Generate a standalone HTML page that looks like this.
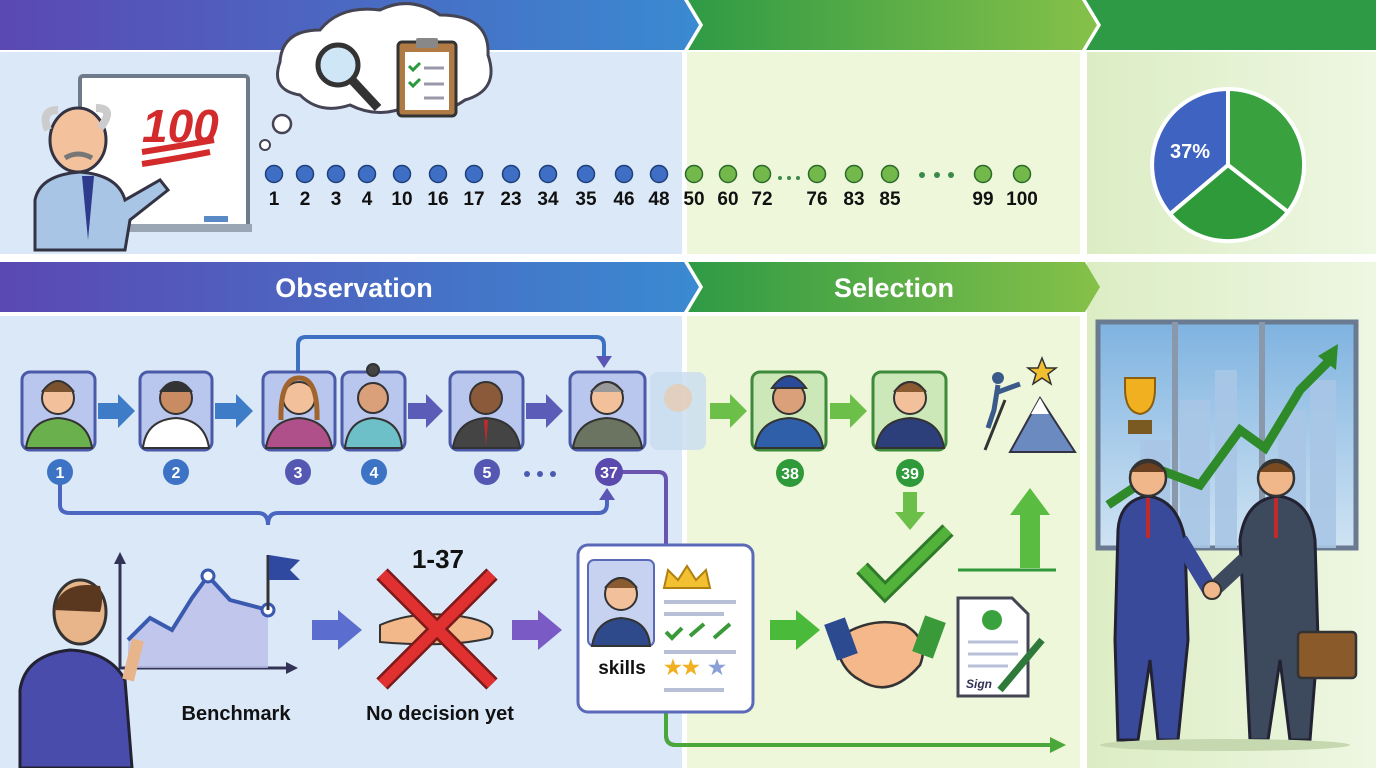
<!DOCTYPE html>
<html><head><meta charset="utf-8"><style>
html,body{margin:0;padding:0;width:1376px;height:768px;overflow:hidden;background:#fff}
svg{display:block}
text{font-family:"Liberation Sans",sans-serif;font-weight:bold}
</style></head><body>
<svg width="1376" height="768" viewBox="0 0 1376 768" xmlns="http://www.w3.org/2000/svg">
<defs>
<linearGradient id="gb" x1="0" x2="1"><stop offset="0" stop-color="#5b48b2"/><stop offset="1" stop-color="#3a8ad2"/></linearGradient>
<linearGradient id="gg" x1="0" x2="1"><stop offset="0" stop-color="#2f9a45"/><stop offset="1" stop-color="#86c149"/></linearGradient>
<linearGradient id="gr" x1="0" x2="1"><stop offset="0" stop-color="#dcedc4"/><stop offset="1" stop-color="#eef7e2"/></linearGradient>
<linearGradient id="sky" x1="0" y1="0" x2="0" y2="1"><stop offset="0" stop-color="#7fb3e0"/><stop offset="1" stop-color="#cfe3f3"/></linearGradient>
</defs>
<rect width="1376" height="768" fill="#fff"/>
<!-- panels -->
<rect x="0" y="52" width="682" height="202" fill="#dbe8f8"/>
<rect x="687" y="52" width="393" height="202" fill="#eef7da"/>
<rect x="1087" y="52" width="289" height="716" fill="url(#gr)"/>
<rect x="0" y="316" width="682" height="452" fill="#dbe8f8"/>
<rect x="687" y="316" width="393" height="452" fill="#eef7da"/>
<!-- top banner -->
<polygon points="0,0 685,0 700,25 685,50 0,50" fill="url(#gb)"/>
<polygon points="1085,0 1376,0 1376,50 1085,50 1098,25" fill="#2f9a45"/>
<polygon points="688,0 1083,0 1098,25 1083,50 688,50 703,25" fill="url(#gg)"/>
<polygon points="684,0 688,0 703,25 688,50 684,50 699,25" fill="#fff"/>
<polygon points="1082,0 1086,0 1101,25 1086,50 1082,50 1097,25" fill="#fff"/>
<!-- second banner -->
<rect x="0" y="254" width="1376" height="8" fill="#fff"/>
<polygon points="0,262 685,262 700,287 685,312 0,312" fill="url(#gb)"/>
<polygon points="688,262 1085,262 1100,287 1085,312 688,312 703,287" fill="url(#gg)"/>
<polygon points="684,262 688,262 703,287 688,312 684,312 699,287" fill="#fff"/>
<text x="354" y="297" font-size="27" fill="#fff" text-anchor="middle">Observation</text>
<text x="894" y="297" font-size="27" fill="#fff" text-anchor="middle">Selection</text>
<!-- whiteboard & teacher -->
<rect x="80" y="76" width="168" height="152" rx="3" fill="#fff" stroke="#6d7a8a" stroke-width="4"/>
<rect x="76" y="224" width="176" height="8" fill="#9aa6b3"/>
<rect x="204" y="216" width="24" height="6" fill="#5a8ac6"/>
<text x="142" y="142" font-size="46" fill="#d32b2b" font-style="italic">100</text>
<path d="M142 152 Q180 146 214 140" stroke="#d32b2b" stroke-width="6" fill="none"/>
<path d="M142 164 Q180 158 210 152" stroke="#d32b2b" stroke-width="6" fill="none"/>
<path d="M35 250 L35 200 Q40 175 80 172 Q118 175 125 200 L160 180 L168 190 L130 220 L125 250 Z" fill="#a9c5e6" stroke="#334" stroke-width="3"/>
<path d="M82 176 L88 240 L94 176 Z" fill="#2e3a8c"/>
<ellipse cx="78" cy="140" rx="28" ry="32" fill="#f3c19b" stroke="#334" stroke-width="3"/>
<path d="M48 130 Q40 110 58 110 M100 128 Q116 108 96 108" stroke="#ccc" stroke-width="8" fill="none"/>
<path d="M65 158 Q78 150 92 158" stroke="#777" stroke-width="5" fill="none"/>
<!-- thought cloud -->
<path d="M300 95 Q270 90 280 62 Q282 30 320 30 Q340 5 380 10 Q410 -5 440 15 Q490 15 488 55 Q500 90 465 100 Q440 118 410 105 Q380 120 350 105 Q320 115 300 95 Z" fill="#fff" stroke="#445" stroke-width="3"/>
<circle cx="282" cy="124" r="9" fill="#fff" stroke="#445" stroke-width="2.5"/>
<circle cx="265" cy="145" r="5" fill="#fff" stroke="#445" stroke-width="2"/>
<circle cx="338" cy="65" r="20" fill="#cfe6f7" stroke="#333" stroke-width="5"/>
<path d="M352 80 L378 108" stroke="#333" stroke-width="9"/>
<rect x="398" y="42" width="58" height="74" rx="4" fill="#b07a45" stroke="#333" stroke-width="3"/>
<rect x="405" y="52" width="44" height="58" fill="#fff"/>
<rect x="416" y="38" width="22" height="10" rx="2" fill="#888"/>
<g stroke="#2a9a3a" stroke-width="3" fill="none"><path d="M409 66 l4 4 l7 -7 M409 82 l4 4 l7 -7"/></g>
<g stroke="#99a" stroke-width="3"><path d="M424 68h20 M424 84h20 M424 98h20"/></g>
<!-- dots row -->
<g stroke="#1f3f7a" stroke-width="1.5" fill="#3e6fc4">
<circle cx="274" cy="174" r="8.5"/><circle cx="305" cy="174" r="8.5"/><circle cx="336" cy="174" r="8.5"/><circle cx="367" cy="174" r="8.5"/><circle cx="402" cy="174" r="8.5"/><circle cx="438" cy="174" r="8.5"/><circle cx="474" cy="174" r="8.5"/><circle cx="511" cy="174" r="8.5"/><circle cx="548" cy="174" r="8.5"/><circle cx="586" cy="174" r="8.5"/><circle cx="624" cy="174" r="8.5"/><circle cx="659" cy="174" r="8.5"/>
</g>
<g stroke="#2c6a2a" stroke-width="1.5" fill="#73b84b">
<circle cx="694" cy="174" r="8.5"/><circle cx="728" cy="174" r="8.5"/><circle cx="762" cy="174" r="8.5"/><circle cx="817" cy="174" r="8.5"/><circle cx="854" cy="174" r="8.5"/><circle cx="890" cy="174" r="8.5"/><circle cx="983" cy="174" r="8.5"/><circle cx="1022" cy="174" r="8.5"/>
</g>
<g fill="#3a8a4a"><circle cx="780" cy="178" r="2"/><circle cx="789" cy="178" r="2"/><circle cx="798" cy="178" r="2"/><circle cx="922" cy="175" r="3"/><circle cx="937" cy="175" r="3"/><circle cx="951" cy="175" r="3"/></g>
<g font-size="19" fill="#111" text-anchor="middle">
<text x="274" y="205">1</text><text x="305" y="205">2</text><text x="336" y="205">3</text><text x="367" y="205">4</text><text x="402" y="205">10</text><text x="438" y="205">16</text><text x="474" y="205">17</text><text x="511" y="205">23</text><text x="548" y="205">34</text><text x="586" y="205">35</text><text x="624" y="205">46</text><text x="659" y="205">48</text>
<text x="694" y="205">50</text><text x="728" y="205">60</text><text x="762" y="205">72</text><text x="817" y="205">76</text><text x="854" y="205">83</text><text x="890" y="205">85</text><text x="983" y="205">99</text><text x="1022" y="205">100</text>
</g>
<!-- pie -->
<g stroke="#fff" stroke-width="4">
<path d="M1228 165 L1228 89 A76 76 0 1 1 1170 214 Z" fill="#3aa13f"/>
<path d="M1228 165 L1288 212 A76 76 0 0 1 1170 214 Z" fill="#2f9a3a"/>
<path d="M1228 165 L1170 214 A76 76 0 0 1 1228 89 Z" fill="#3f63c0"/>
</g>
<text x="1190" y="158" font-size="20" fill="#fff" text-anchor="middle">37%</text>
<!-- connectors -->
<path d="M298 372 V345 Q298 337 306 337 H596 Q604 337 604 345 V358" stroke="#3c70c2" stroke-width="4" fill="none"/>
<polygon points="596,356 612,356 604,368" fill="#5b55b5"/>
<path d="M60 484 V505 Q60 513 70 513 H258 Q268 513 268 525 Q268 513 278 513 H598 Q607 513 607 504 V498" stroke="#4a66c0" stroke-width="4" fill="none"/>
<polygon points="599,500 615,500 607,488" fill="#5b55b5"/>
<path d="M622 472 H658 Q666 472 666 480 V735 Q666 745 676 745 H1052" stroke="#6a54b0" stroke-width="4" fill="none"/>
<path d="M666 600 V735 Q666 745 676 745 H1052" stroke="#4aa83a" stroke-width="4" fill="none"/>
<polygon points="1050,737 1066,745 1050,753" fill="#4aa83a"/>
<!-- person cards -->
<g stroke="#4a5aa8" stroke-width="3">
<rect x="22" y="372" width="73" height="78" rx="8" fill="#b9c6ee"/>
<rect x="140" y="372" width="72" height="78" rx="8" fill="#b9c6ee"/>
<rect x="263" y="372" width="72" height="78" rx="8" fill="#b9c6ee"/>
<rect x="342" y="372" width="63" height="78" rx="8" fill="#b9c6ee"/>
<rect x="450" y="372" width="73" height="78" rx="8" fill="#b9c6ee"/>
<rect x="570" y="372" width="75" height="78" rx="8" fill="#b9c6ee"/>
</g>
<rect x="650" y="372" width="56" height="78" rx="8" fill="#c8dcef" opacity="0.8"/>
<g stroke="#3c8a3a" stroke-width="3">
<rect x="752" y="372" width="74" height="78" rx="8" fill="#cde8b8"/>
<rect x="873" y="372" width="73" height="78" rx="8" fill="#cde8b8"/>
</g>
<!-- heads and bodies -->
<g stroke="#333" stroke-width="2">
<path d="M26 448 Q30 420 58 418 Q88 420 92 448 Z" fill="#6ab04c"/><circle cx="58" cy="398" r="16" fill="#f2c09a"/><path d="M42 392 Q58 370 74 392" fill="#7a5230"/>
<path d="M143 448 Q146 420 176 418 Q205 420 209 448 Z" fill="#fff"/><circle cx="176" cy="398" r="16" fill="#c98c62"/><path d="M160 392 Q176 372 192 392" fill="#333"/>
<path d="M266 448 Q270 420 299 418 Q328 420 332 448 Z" fill="#b0508a"/><circle cx="299" cy="398" r="16" fill="#f2c09a"/><path d="M281 420 Q280 378 299 378 Q318 378 317 420" fill="none" stroke="#a0642e" stroke-width="5"/>
<path d="M345 448 Q348 420 373 418 Q400 420 402 448 Z" fill="#6dc0c8"/><circle cx="373" cy="398" r="15" fill="#d9a07a"/><circle cx="373" cy="370" r="6" fill="#444"/>
<path d="M453 448 Q457 420 486 418 Q516 420 520 448 Z" fill="#444"/><circle cx="486" cy="398" r="16" fill="#8a5a3a"/>
<path d="M573 448 Q577 420 607 418 Q638 420 642 448 Z" fill="#6a7460"/><circle cx="607" cy="398" r="16" fill="#f2c09a"/><path d="M591 392 Q607 372 623 392" fill="#999"/>
<path d="M755 448 Q759 420 789 418 Q819 420 823 448 Z" fill="#2f5fa8"/><circle cx="789" cy="398" r="16" fill="#d9a07a"/><path d="M772 388 Q789 364 806 388 Z" fill="#2a4a9a"/>
<path d="M876 448 Q880 420 910 418 Q940 420 944 448 Z" fill="#2d3f7a"/><circle cx="910" cy="398" r="16" fill="#f2c09a"/><path d="M894 392 Q910 372 926 392" fill="#8a5a30"/>
</g>
<g fill="#c02a2a"><path d="M484 420 l2 26 l2 -26z"/></g>
<circle cx="678" cy="398" r="14" fill="#e9c7aa" opacity="0.7"/>
<!-- small arrows between cards -->
<g fill="#3e7cc8">
<polygon points="98,403 118,403 118,394 135,411 118,428 118,419 98,419"/>
<polygon points="215,403 236,403 236,394 253,411 236,428 236,419 215,419"/>
</g>
<g fill="#5b5bb8">
<polygon points="408,403 426,403 426,394 443,411 426,428 426,419 408,419"/>
<polygon points="526,403 546,403 546,394 563,411 546,428 546,419 526,419"/>
</g>
<g fill="#6cc04a">
<polygon points="710,403 730,403 730,394 747,411 730,428 730,419 710,419"/>
<polygon points="830,403 850,403 850,394 867,411 850,428 850,419 830,419"/>
</g>
<!-- number badges -->
<g font-size="16" fill="#fff" text-anchor="middle">
<circle cx="60" cy="472" r="13" fill="#3c73c4"/><text x="60" y="478">1</text>
<circle cx="176" cy="472" r="13" fill="#3c73c4"/><text x="176" y="478">2</text>
<circle cx="298" cy="472" r="13" fill="#5458b2"/><text x="298" y="478">3</text>
<circle cx="374" cy="472" r="13" fill="#3c73c4"/><text x="374" y="478">4</text>
<circle cx="487" cy="472" r="13" fill="#5458b2"/><text x="487" y="478">5</text>
<circle cx="609" cy="472" r="14" fill="#5a4aae"/><text x="609" y="478">37</text>
<circle cx="790" cy="473" r="14" fill="#2f9a3a"/><text x="790" y="479">38</text>
<circle cx="910" cy="473" r="14" fill="#2f9a3a"/><text x="910" y="479">39</text>
</g>
<g fill="#4a5ab0"><circle cx="527" cy="474" r="3"/><circle cx="540" cy="474" r="3"/><circle cx="553" cy="474" r="3"/></g>
<!-- green down arrow & check -->
<polygon points="903,492 917,492 917,512 925,512 910,530 895,512 903,512" fill="#6cc04a"/>
<path d="M862 568 L885 592 L948 530" stroke="#2f7a2a" stroke-width="16" fill="none"/>
<path d="M862 568 L885 592 L948 530" stroke="#52b23a" stroke-width="10" fill="none"/>
<polygon points="1030,488 1050,515 1040,515 1040,568 1020,568 1020,515 1010,515" fill="#5abc40"/>
<path d="M958 570 H1056" stroke="#2f9a3a" stroke-width="3"/>
<!-- mountain -->
<polygon points="1010,452 1040,398 1075,452" fill="#6a8ac0" stroke="#334" stroke-width="2"/>
<polygon points="1031,414 1040,398 1049,414" fill="#fff"/>
<polygon points="1042,358 1046,368 1056,368 1048,374 1051,384 1042,378 1033,384 1036,374 1028,368 1038,368" fill="#f0c030" stroke="#333" stroke-width="1.5"/>
<path d="M985 450 L1005 400" stroke="#333" stroke-width="3"/>
<circle cx="998" cy="378" r="6" fill="#3a5a8a"/><path d="M998 385 L994 410 L988 428 M998 392 L1020 384" stroke="#3a5a8a" stroke-width="5" fill="none"/>
<!-- benchmark -->
<path d="M120 560 V668 H292" stroke="#335" stroke-width="3" fill="none"/>
<polygon points="120,552 114,564 126,564" fill="#335"/><polygon points="298,668 286,662 286,674" fill="#335"/>
<path d="M128 640 L150 618 L172 630 L192 598 L208 576 L230 600 L268 610 V668 H128 Z" fill="#b9bde8" opacity="0.8"/>
<path d="M128 640 L150 618 L172 630 L192 598 L208 576 L230 600 L268 610" stroke="#3a5ab0" stroke-width="4" fill="none"/>
<circle cx="208" cy="576" r="6" fill="#fff" stroke="#3a5ab0" stroke-width="3"/><circle cx="268" cy="610" r="6" fill="#fff" stroke="#3a5ab0" stroke-width="3"/>
<path d="M268 610 V555" stroke="#333" stroke-width="3"/><polygon points="269,555 300,560 290,570 300,580 269,580" fill="#2f49a0"/>
<path d="M20 768 V690 Q25 655 70 650 Q110 652 125 680 L132 768 Z" fill="#4a4cac" stroke="#223" stroke-width="3"/>
<ellipse cx="80" cy="612" rx="26" ry="32" fill="#e8b48a" stroke="#333" stroke-width="3"/>
<path d="M54 610 Q60 580 100 586 Q104 600 100 612" fill="#5a3820"/>
<path d="M128 680 L138 640" stroke="#e8b48a" stroke-width="12"/>
<text x="236" y="720" font-size="20" fill="#111" text-anchor="middle">Benchmark</text>
<!-- purple arrows -->
<polygon points="312,620 338,620 338,610 362,630 338,650 338,640 312,640" fill="#5b6ed0"/>
<polygon points="512,620 538,620 538,610 562,630 538,650 538,640 512,640" fill="#7a5ac4"/>
<polygon points="770,620 796,620 796,610 820,630 796,650 796,640 770,640" fill="#4aba3a"/>
<!-- no decision -->
<text x="438" y="568" font-size="26" fill="#111" text-anchor="middle">1-37</text>
<path d="M380 625 Q420 608 470 618 Q500 625 490 638 Q450 648 380 642 Z" fill="#f2b88a" stroke="#333" stroke-width="2"/>
<path d="M382 574 L492 684 M492 574 L382 684" stroke="#7a1a1a" stroke-width="16"/>
<path d="M382 574 L492 684 M492 574 L382 684" stroke="#e03030" stroke-width="11"/>
<text x="440" y="720" font-size="20" fill="#111" text-anchor="middle">No decision yet</text>
<!-- profile card -->
<rect x="578" y="545" width="175" height="167" rx="10" fill="#fff" stroke="#5a6ab8" stroke-width="3"/>
<rect x="588" y="560" width="66" height="86" rx="6" fill="#c6d2f0" stroke="#5a6ab8" stroke-width="2"/>
<path d="M592 646 Q596 620 621 618 Q648 620 650 646 Z" fill="#2f4a8a" stroke="#333" stroke-width="2"/>
<circle cx="621" cy="594" r="16" fill="#f2c09a" stroke="#333" stroke-width="2"/>
<path d="M605 588 Q621 568 637 588" fill="#8a5a30" stroke="#333" stroke-width="2"/>
<polygon points="664,588 668,570 678,580 687,566 696,580 706,570 710,588" fill="#f2c030" stroke="#b08010" stroke-width="2"/>
<g stroke="#b8c0d8" stroke-width="4"><path d="M664 602h72 M664 614h60 M664 652h72 M664 690h60"/></g>
<path d="M666 632 l6 6 l10 -10 M690 636 l14 -12 M714 638 l16 -14" stroke="#3a9a3a" stroke-width="4" fill="none"/>
<text x="622" y="674" font-size="19" fill="#111" text-anchor="middle">skills</text>
<text x="664" y="674" font-size="20" fill="#f0b020">★★</text><text x="708" y="674" font-size="20" fill="#8aa0d8">★</text>
<!-- handshake -->
<path d="M835 640 Q870 615 905 625 Q930 640 920 665 Q890 700 860 680 Q840 670 835 640 Z" fill="#f5b88a" stroke="#333" stroke-width="2.5"/>
<rect x="830" y="620" width="22" height="38" fill="#2c4a90" transform="rotate(-20 841 639)"/>
<rect x="918" y="618" width="22" height="38" fill="#3a9a3a" transform="rotate(20 929 637)"/>
<!-- document -->
<path d="M958 598 H1012 L1028 614 V696 H958 Z" fill="#fff" stroke="#445" stroke-width="3"/>
<circle cx="992" cy="620" r="10" fill="#3aa13f"/>
<g stroke="#b8c0d8" stroke-width="3"><path d="M968 642h50 M968 654h50 M968 666h40"/></g>
<text x="966" y="688" font-size="12" fill="#335" font-style="italic">Sign</text>
<path d="M1000 690 L1042 640" stroke="#2f7a3a" stroke-width="7"/>
<!-- window / right scene -->
<rect x="1098" y="322" width="258" height="226" fill="url(#sky)" stroke="#6a7a90" stroke-width="5"/>
<path d="M1175 322 V548 M1262 322 V548" stroke="#8a98ab" stroke-width="6"/>
<g fill="#a9c6e6" opacity="0.9"><rect x="1180" y="400" width="30" height="148"/><rect x="1215" y="370" width="22" height="178"/><rect x="1278" y="410" width="28" height="138"/><rect x="1310" y="380" width="26" height="168"/><rect x="1140" y="440" width="30" height="108"/></g>
<path d="M1108 505 L1160 470 L1200 485 L1240 430 L1265 448 L1300 390 L1330 360" stroke="#2f8a2a" stroke-width="9" fill="none"/>
<polygon points="1338,344 1318,356 1336,370" fill="#2f8a2a"/>
<path d="M1125 378 h30 v10 q0 24 -15 26 q-15 -2 -15 -26z" fill="#f0b020" stroke="#8a6010" stroke-width="2"/>
<rect x="1128" y="420" width="24" height="14" fill="#7a5a20"/>
<!-- two men -->
<path d="M1118 530 Q1120 500 1148 496 Q1178 500 1185 540 L1188 640 L1178 740 H1158 L1150 660 L1138 740 H1118 L1115 640 Z" fill="#3a4a9a" stroke="#223" stroke-width="3"/>
<circle cx="1148" cy="478" r="18" fill="#f0b88a" stroke="#333" stroke-width="2.5"/>
<path d="M1130 472 Q1148 452 1166 472" fill="#6a4020" stroke="#333" stroke-width="2"/>
<path d="M1180 540 L1210 590" stroke="#3a4a9a" stroke-width="16"/>
<path d="M1240 540 Q1245 500 1278 496 Q1310 500 1315 540 L1318 640 L1310 740 H1290 L1280 660 L1268 740 H1250 L1245 640 Z" fill="#3d4a5e" stroke="#223" stroke-width="3"/>
<circle cx="1276" cy="478" r="18" fill="#f0b88a" stroke="#333" stroke-width="2.5"/>
<path d="M1258 472 Q1276 452 1294 472" fill="#7a4a20" stroke="#333" stroke-width="2"/>
<path d="M1245 560 L1215 588" stroke="#3d4a5e" stroke-width="16"/>
<path d="M1148 498 v40 M1276 498 v40" stroke="#c02a2a" stroke-width="4"/>
<circle cx="1212" cy="590" r="9" fill="#f0b88a" stroke="#333" stroke-width="2"/>
<rect x="1298" y="632" width="58" height="46" rx="4" fill="#8a5a2a" stroke="#333" stroke-width="2.5"/>
<ellipse cx="1225" cy="745" rx="125" ry="6" fill="#c6d8b0"/>
</svg>
</body></html>
